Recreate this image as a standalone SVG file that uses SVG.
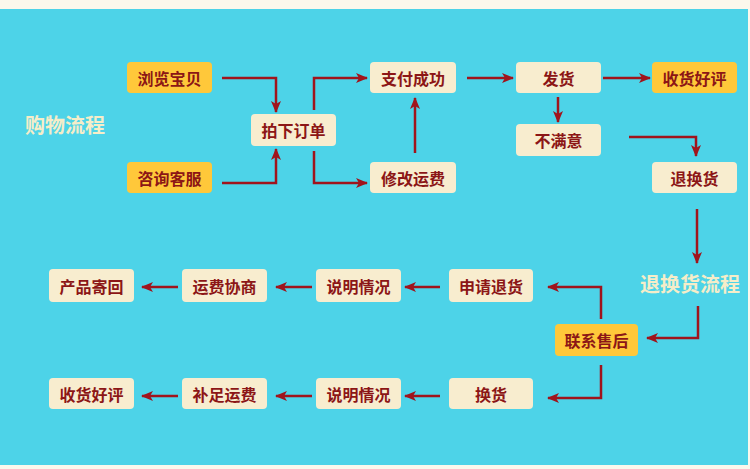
<svg xmlns="http://www.w3.org/2000/svg" width="750" height="469" viewBox="0 0 750 469">
<defs>
<style>
.n rect{fill:#F8EDCF;}
.y rect{fill:#FFC83A;}
.n text,.y text{font-family:"Noto Sans CJK SC","Noto Sans CJK JP",sans-serif;font-weight:bold;font-size:16px;fill:#8C1616;text-anchor:middle;dominant-baseline:central;}
.t{font-family:"Noto Sans CJK SC","Noto Sans CJK JP",sans-serif;font-weight:bold;font-size:20px;fill:#F6EDC8;dominant-baseline:central;}
#conn path{fill:none;stroke:#A0141C;stroke-width:2.5;marker-end:url(#ah);}
</style>
<marker id="ah" viewBox="0 0 12 10" refX="11" refY="5" markerWidth="12" markerHeight="10" markerUnits="userSpaceOnUse" orient="auto">
<path d="M0,0 L12,5 L0,10 L3,5 Z" fill="#A0141C"/>
</marker>
</defs>
<rect x="0" y="0" width="750" height="469" fill="#FBF8EC"/>
<rect x="0" y="9" width="748" height="456" fill="#4DD3E8"/>
<text class="t" x="25" y="124">购物流程</text>
<text class="t" x="640" y="283">退换货流程</text>
<g id="conn">
<path d="M222,78 H276 V112"/>
<path d="M222,183 H276 V149"/>
<path d="M314,110 V78 H367"/>
<path d="M314,151 V183 H367"/>
<path d="M415,153 V98"/>
<path d="M467,78 H513"/>
<path d="M603,78 H650"/>
<path d="M558,97 V122"/>
<path d="M629,137 H696 V156"/>
<path d="M697,209 V263"/>
<path d="M698,306 V338 H647"/>
<path d="M601,319 V287 H548"/>
<path d="M601,365 V398 H548"/>
<path d="M440,287 H405"/>
<path d="M312,287 H276"/>
<path d="M178,287 H142"/>
<path d="M440,396 H405"/>
<path d="M312,396 H276"/>
<path d="M178,396 H142"/>
</g>
<g id="n1" class="y"><rect x="127" y="62" width="85" height="31" rx="4"/><text x="169.5" y="77.5">浏览宝贝</text></g>
<g id="n2" class="y"><rect x="127" y="162" width="85" height="31" rx="4"/><text x="169.5" y="177.5">咨询客服</text></g>
<g id="n3" class="n"><rect x="251" y="114" width="85" height="32" rx="4"/><text x="293.5" y="130">拍下订单</text></g>
<g id="n4" class="n"><rect x="370" y="62" width="86" height="31" rx="4"/><text x="413" y="77.5">支付成功</text></g>
<g id="n5" class="n"><rect x="370" y="162" width="86" height="31" rx="4"/><text x="413" y="177.5">修改运费</text></g>
<g id="n6" class="n"><rect x="516" y="62" width="85" height="31" rx="4"/><text x="558.5" y="77.5">发货</text></g>
<g id="n7" class="y"><rect x="652" y="62" width="85" height="31" rx="4"/><text x="694.5" y="77.5">收货好评</text></g>
<g id="n8" class="n"><rect x="516" y="124" width="85" height="32" rx="4"/><text x="558.5" y="140">不满意</text></g>
<g id="n9" class="n"><rect x="652" y="162" width="85" height="31" rx="4"/><text x="694.5" y="177.5">退换货</text></g>
<g id="n10" class="y"><rect x="555" y="324" width="83" height="32" rx="4"/><text x="596.5" y="340">联系售后</text></g>
<g id="n11" class="n"><rect x="449" y="269" width="84" height="33" rx="4"/><text x="491" y="285.5">申请退货</text></g>
<g id="n12" class="n"><rect x="316" y="269" width="85" height="33" rx="4"/><text x="358.5" y="285.5">说明情况</text></g>
<g id="n13" class="n"><rect x="182" y="269" width="85" height="33" rx="4"/><text x="224.5" y="285.5">运费协商</text></g>
<g id="n14" class="n"><rect x="49" y="269" width="85" height="33" rx="4"/><text x="91.5" y="285.5">产品寄回</text></g>
<g id="n15" class="n"><rect x="449" y="378" width="84" height="31" rx="4"/><text x="491" y="393.5">换货</text></g>
<g id="n16" class="n"><rect x="316" y="378" width="85" height="31" rx="4"/><text x="358.5" y="393.5">说明情况</text></g>
<g id="n17" class="n"><rect x="182" y="378" width="85" height="31" rx="4"/><text x="224.5" y="393.5">补足运费</text></g>
<g id="n18" class="n"><rect x="49" y="378" width="85" height="31" rx="4"/><text x="91.5" y="393.5">收货好评</text></g>
</svg>
